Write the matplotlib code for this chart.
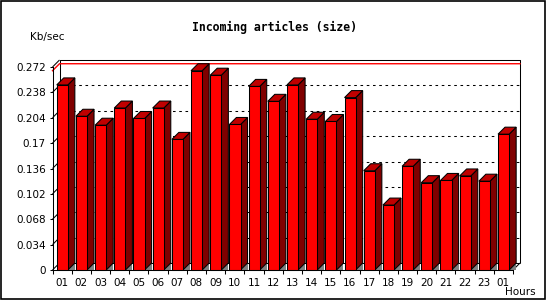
import numpy as np
import matplotlib
matplotlib.use('Agg')
import matplotlib.pyplot as plt
from matplotlib.patches import Polygon, Rectangle

# Incoming articles (size), Kb/sec per hour
hours = ['01', '02', '03', '04', '05', '06', '07', '08', '09', '10', '11', '12',
         '13', '14', '15', '16', '17', '18', '19', '20', '21', '22', '23', '01']
kbsec = [0.248, 0.206, 0.194, 0.217, 0.203, 0.217, 0.175, 0.267, 0.261, 0.195, 0.246, 0.226,
         0.248, 0.202, 0.199, 0.231, 0.133, 0.087, 0.139, 0.117, 0.120, 0.126, 0.119, 0.182]
ytick_vals = [0, 0.034, 0.068, 0.102, 0.136, 0.17, 0.204, 0.238, 0.272]
ytick_labels = ['0', '0.034', '0.068', '0.102', '0.136', '0.17', '0.204', '0.238', '0.272']

W, H = 550, 300
fig = plt.figure(figsize=(W / 100, H / 100), dpi=100)
fig.patch.set_facecolor('white')

# front plane of the 3d box
ax_left, ax_right, ax_top, ax_bot = 52.5, 513, 67, 270
ax = fig.add_axes([ax_left / W, 1 - ax_bot / H, (ax_right - ax_left) / W, (ax_bot - ax_top) / H])
n = len(kbsec)
ymax = ytick_vals[-1]
ax.set_xlim(0, n)
ax.set_ylim(0, ymax)

# depth of 7 px in data units
px_x = n / (ax_right - ax_left)
px_y = ymax / (ax_bot - ax_top)
dx = 7 * px_x
dy = 7 * px_y

lw = 0.75
kw = dict(color='black', lw=lw, clip_on=False, solid_capstyle='butt')

# back plane frame
ax.plot([dx, dx, n + dx, n + dx], [dy, ymax + dy, ymax + dy, dy], zorder=1, **kw)
ax.plot([0, dx], [ymax, ymax + dy], zorder=1, **kw)
ax.plot([dx, n + dx], [dy, dy], zorder=1, **kw)
ax.plot([n, n + dx], [0, dy], zorder=1, **kw)

# grid lines on back wall and side wall
for v in ytick_vals[1:-1]:
    ax.plot([dx, n + dx], [v + dy, v + dy], color='black', lw=lw, clip_on=False,
            dashes=(2.5, 3.5), zorder=1)
for v in ytick_vals[:-1]:
    ax.plot([0, dx], [v, v + dy], zorder=1, **kw)

# max line
vmax = max(kbsec)
ax.plot([0, dx, n + dx], [vmax, vmax + dy, vmax + dy], color='#ff0000', lw=1.0, clip_on=False, zorder=1.5)

# bars
face_l, face_r = 0.22, 0.80
for i, v in enumerate(kbsec):
    x0 = i + face_l
    x1 = i + face_r
    ax.add_patch(Polygon([(x1, 0), (x1 + dx, 0), (x1 + dx, dy)], closed=True,
                         fc='#808080', ec='none', clip_on=False, zorder=2))
    ax.add_patch(Polygon([(x1, 0), (x1, v), (x1 + dx, v + dy), (x1 + dx, dy)], closed=True,
                         fc='#800000', ec='black', lw=lw, clip_on=False, zorder=3))
    ax.add_patch(Polygon([(x0, v), (x1, v), (x1 + dx, v + dy), (x0 + dx, v + dy)], closed=True,
                         fc='#c00000', ec='black', lw=lw, clip_on=False, zorder=3))
    ax.add_patch(Rectangle((x0, 0), x1 - x0, v, fc='#ff0000', ec='black', lw=lw,
                           clip_on=False, zorder=4))

# axes
for s in ['top', 'right']:
    ax.spines[s].set_visible(False)
for s in ['left', 'bottom']:
    ax.spines[s].set_linewidth(lw)
    ax.spines[s].set_zorder(5)
ax.patch.set_visible(False)

ax.set_yticks(ytick_vals)
ax.set_yticklabels(ytick_labels)
ax.set_xticks(np.arange(n + 1))
ax.set_xticklabels([])
ax.set_xticks(np.arange(n) + 0.5, minor=True)
ax.set_xticklabels(hours, minor=True)
ax.tick_params(axis='y', length=2.3, width=lw, pad=2.6, labelsize=7.5, direction='out')
ax.tick_params(axis='x', which='major', length=3, width=lw, direction='out')
ax.tick_params(axis='x', which='minor', length=0, pad=5.5, labelsize=7.5)

# texts
fig.text(274 / W, 1 - 27 / H, 'Incoming articles (size)', ha='center', va='center',
         family='DejaVu Sans Mono', weight='bold', fontsize=8.3)
fig.text(30 / W, 1 - 37 / H, 'Kb/sec', ha='left', va='center', fontsize=7.5)
fig.text(505 / W, 1 - 292 / H, 'Hours', ha='left', va='center', fontsize=7.5)

# outer border
fig.add_artist(Rectangle((0.5 / W, 1.5 / H), 544 / W, 297.5 / H, transform=fig.transFigure,
                         fill=False, ec='black', lw=1.2))

plt.savefig('out.png', dpi=100)
